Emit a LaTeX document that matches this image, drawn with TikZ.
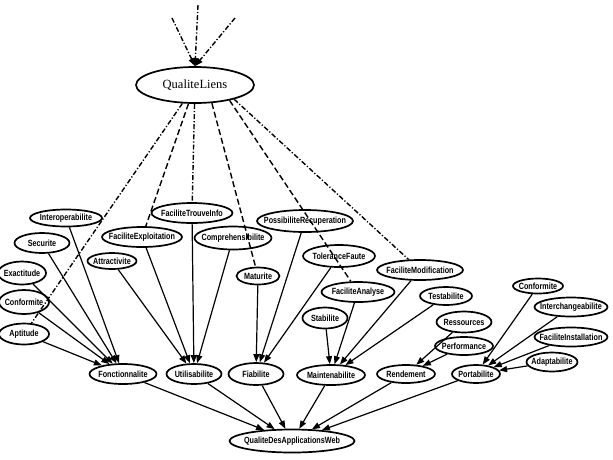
\documentclass[tikz,border=0pt]{standalone}
\usepackage{fontspec}
\newfontfamily\lblfont[FakeStretch=0.8]{Liberation Sans}
\newfontfamily\qlfont{Liberation Serif}
\usetikzlibrary{arrows.meta,shapes.geometric}

\begin{document}
\begin{tikzpicture}[x=1pt,y=-1pt,>={Triangle[length=8pt,width=6pt]},every node/.style={font=\lblfont\bfseries\fontsize{9}{10}\selectfont},attr/.style 2 args={ellipse,draw,line width=1.7pt,inner xsep=-40pt,inner ysep=0pt,minimum width=#1pt,minimum height=#2pt},dep/.style={line width=1.2pt},lnk/.style={line width=1.4pt,dash pattern=on 6pt off 3pt},lnkdot/.style={line width=1.4pt,dash pattern=on 5pt off 2pt on 1.2pt off 2pt}]
\useasboundingbox (0,0) rectangle (613,459);
\node[attr={118}{36},font=\qlfont\fontsize{12.5}{14}\selectfont] (QL) at (195,85) {QualiteLiens};
\coordinate (in1) at (172,18);\coordinate (in2) at (198,5);\coordinate (in3) at (235,18);
\node[attr={72}{17}] (inter) at (66,218) {Interoperabilite};
\node[attr={55}{20}] (secu) at (42,243) {Securite};
\node[attr={48}{23}] (exac) at (22,273) {Exactitude};
\node[attr={50}{24}] (conf) at (24,302) {Conformite};
\node[attr={50}{21}] (apti) at (24,334) {Aptitude};
\node[attr={80}{20}] (fexp) at (142,237) {FaciliteExploitation};
\node[attr={49}{16}] (attra) at (112,261) {Attractivite};
\node[attr={81}{20}] (ftrouv) at (192,213) {FaciliteTrouveInfo};
\node[attr={77}{23}] (compr) at (233,238) {Comprehensibilite};
\node[attr={43}{17}] (matu) at (258,276) {Maturite};
\node[attr={96}{22}] (possr) at (305,221) {PossibiliteRecuperation};
\node[attr={72}{22}] (tolf) at (339,256) {ToleranceFaute};
\node[attr={73}{20}] (fana) at (358,292) {FaciliteAnalyse};
\node[attr={86}{20}] (fmod) at (420,270) {FaciliteModification};
\node[attr={52}{18}] (testa) at (446,296) {Testabilite};
\node[attr={45}{21}] (stab) at (325,318) {Stabilite};
\node[attr={55}{21}] (ress) at (464,322) {Ressources};
\node[attr={58}{18}] (perf) at (464,346) {Performance};
\node[attr={50}{15}] (confp) at (538,286) {Conformite};
\node[attr={73}{19}] (inch) at (571,307) {Interchangeabilite};
\node[attr={73}{19}] (finst) at (571,337) {FaciliteInstallation};
\node[attr={51}{19}] (adap) at (552,362) {Adaptabilite};
\node[attr={67}{20}] (fonc) at (123,374) {Fonctionnalite};
\node[attr={55}{20}] (util) at (194,374) {Utilisabilite};
\node[attr={55}{22}] (fiab) at (256,374) {Fiabilite};
\node[attr={68}{20}] (maint) at (331,375) {Maintenabilite};
\node[attr={58}{18}] (rend) at (406,374) {Rendement};
\node[attr={48}{18}] (port) at (476,374) {Portabilite};
\node[attr={125}{23}] (qdaw) at (292,441) {QualiteDesApplicationsWeb};
% links into QualiteLiens and out of it
\draw[lnkdot,->](in1)--(QL.north);\draw[lnkdot,->](in2)--(QL.north);\draw[lnkdot,->](in3)--(QL.north);
\draw[lnkdot](QL)--(apti);\draw[lnk](QL)--(fexp);\draw[lnkdot](QL)--(ftrouv);\draw[lnk](QL.-47)--(matu);\draw[lnk](QL.-24)--(fana);\draw[lnkdot](QL.-20)--(fmod);
% sub-characteristics
\draw[dep,->](inter)--(fonc);\draw[dep,->](secu)--(fonc);\draw[dep,->](exac)--(fonc);\draw[dep,->](conf)--(fonc);\draw[dep,->](apti)--(fonc);
\draw[dep,->](fexp)--(util);\draw[dep,->](attra)--(util);\draw[dep,->](ftrouv)--(util);\draw[dep,->](compr)--(util);
\draw[dep,->](matu)--(fiab);\draw[dep,->](possr)--(fiab);\draw[dep,->](tolf)--(fiab);
\draw[dep,->](stab)--(maint);\draw[dep,->](fana)--(maint);\draw[dep,->](fmod)--(maint);\draw[dep,->](testa)--(maint);
\draw[dep,->](ress)--(rend);\draw[dep,->](perf)--(rend);
\draw[dep,->](confp)--(port);\draw[dep,->](inch)--(port);\draw[dep,->](finst)--(port);\draw[dep,->](adap)--(port);
% characteristics
\draw[dep,->](fonc)--(qdaw);\draw[dep,->](util)--(qdaw);\draw[dep,->](fiab)--(qdaw);\draw[dep,->](maint)--(qdaw);\draw[dep,->](rend)--(qdaw);\draw[dep,->](port)--(qdaw);
\end{tikzpicture}
\end{document}
